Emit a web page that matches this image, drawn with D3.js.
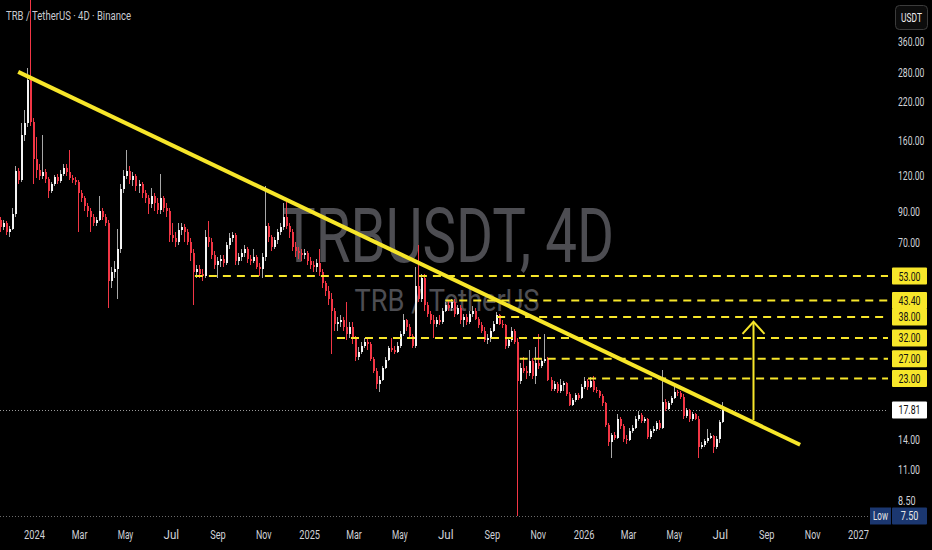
<!DOCTYPE html>
<html>
<head>
<meta charset="utf-8">
<script src="https://cdn.jsdelivr.net/npm/d3@7"></script>
<style>
  html, body { margin: 0; padding: 0; background: #000; overflow: hidden; }
  svg { display: block; }
</style>
</head>
<body>
<script>
// TRB / TetherUS 4D candles (USDT)
const startDate = "2023-11-13";
const stepDays = 4;
const firstOpen = 88;

const closes = [
  84, 79, 82, 76, 78, 88, 125, 116, 168, 185,
  262, 186, 138, 126, 120, 124, 117, 106, 112, 119,
  115, 122, 128, 124, 118, 116, 114, 104, 100, 94,
  90, 86, 82, 84, 90, 86, 82, 51, 55, 56,
  66, 108, 120, 125, 116, 120, 110, 112, 104, 100,
  95, 102, 96, 91, 100, 92, 90, 74, 72, 70,
  77, 79, 76, 70, 64, 55, 56, 54, 53, 73,
  70, 63, 58, 60, 61, 59, 68, 72, 74, 60,
  62, 64, 66, 61, 60, 62, 57, 56, 62, 80,
  73, 67, 71, 76, 79, 86, 80, 76, 67, 65,
  64, 63, 64, 60, 58, 57, 59, 55, 50, 47,
  44, 40, 36, 36.5, 37, 35, 33, 35, 32, 27.5,
  28.5, 30, 31, 30.5, 27, 24.5, 22, 22.8, 25, 26.8,
  29.5, 29, 28.5, 30, 33, 37, 35, 32.5, 30, 49,
  44, 52, 42, 39, 37, 36, 37, 36.5, 40, 42,
  41, 43, 39, 41, 37, 38, 36.5, 39, 40, 37.5,
  35.5, 34, 31.5, 32, 34, 36, 38.5, 36, 35.5, 30,
  31.5, 34, 31, 22.5, 25, 24.5, 24, 26.5, 23.5, 26,
  25.5, 26.5, 27, 22.8, 21.2, 22, 20.7, 21.8, 22.2, 20.2,
  18.6, 19.3, 20.1, 19.6, 21.5, 22.5, 21.5, 22.6, 21, 20.8,
  20, 18.8, 15.8, 13.7, 14.5, 14.2, 16.5, 15.6, 14, 13.9,
  15, 15.4, 16.5, 17.1, 16.3, 16.5, 14.3, 15, 15.3, 16,
  15.4, 19, 18, 18.8, 19.6, 20.6, 20.4, 19.8, 16.9, 17.8,
  16.5, 17.2, 16.6, 13.2, 13.4, 13.8, 14.2, 14.4, 13.2, 14,
  16.2, 17.81
];

const highs = [
  92, 86, 84, 83, 80, 92, 130, 128, 185, 205,
  290, 640, 192, 165, 132, 168, 127, 119, 114, 121,
  122, 126, 132, 132, 148, 121, 119, 116, 107, 102,
  96, 92, 88, 86, 102, 92, 88, 84, 57, 60,
  78, 112, 126, 148, 130, 124, 122, 116, 114, 107,
  103, 109, 104, 100, 122, 102, 96, 92, 82, 76,
  82, 82, 81, 78, 72, 66, 58, 58, 56, 77,
  83, 72, 65, 62, 63, 63, 70, 75, 76, 75,
  64, 66, 68, 67, 63, 66, 63, 59, 64, 110,
  82, 74, 73, 78, 82, 96, 97, 82, 78, 70,
  67, 66, 66, 65, 62, 60, 61, 66, 56, 51,
  49, 46, 41, 38, 38.5, 38, 43, 36.5, 36.5, 32.5,
  29.8, 31, 32, 32, 31, 27.5, 25, 23.4, 25.5, 27.3,
  30, 32, 30, 31, 34, 39, 37.5, 36, 33, 57,
  68, 54, 54, 43, 40, 38.5, 38, 38.5, 41, 43,
  43.5, 44, 44, 42, 42, 39, 39, 40, 41.5, 41,
  38, 36.5, 35, 33, 34.6, 36.8, 39.5, 39, 37, 36,
  32, 35, 34.5, 32, 26, 27.5, 25.5, 29, 27.2, 29.7,
  33, 27.2, 33, 27.5, 23.2, 22.6, 22.4, 23, 22.6, 22.4,
  20.6, 19.6, 20.5, 20.4, 22, 23.2, 22.9, 23.2, 23.4, 21.5,
  21, 20.2, 19, 16, 14.8, 14.9, 17.2, 16.8, 15.9, 14.5,
  15.4, 15.8, 16.9, 17.6, 17.3, 16.8, 16.7, 15.3, 15.6, 16.3,
  16.4, 24.6, 19.4, 19.2, 20, 22, 21, 20.8, 20.2, 18.1,
  18, 17.5, 17.4, 16.9, 13.7, 14, 15.2, 14.7, 14.5, 14.4,
  16.4, 19
];

const lows = [
  80, 76, 77, 74, 73, 77, 86, 112, 114, 160,
  178, 180, 112, 118, 116, 117, 113, 100, 104, 110,
  112, 113, 120, 120, 116, 113, 111, 76, 97, 90,
  86, 76, 80, 80, 83, 84, 80, 41, 48, 52,
  44, 64, 104, 117, 112, 110, 106, 104, 100, 96,
  88, 92, 90, 88, 88, 89, 86, 70, 70, 67,
  68, 74, 70, 68, 60, 42, 52, 52, 51, 52,
  67, 61, 56, 52, 57, 57, 58, 66, 70, 58,
  58, 60, 62, 59, 58, 59, 56, 53, 52, 60,
  70, 65, 66, 69, 74, 77, 78, 72, 65, 62,
  61, 60, 61, 58, 56, 55, 55, 53, 48, 45,
  42, 28, 34, 34, 35, 34, 31.5, 32, 30.5, 26.5,
  26.8, 28, 29.5, 29, 26.5, 24, 21.2, 20.6, 22.5, 24.8,
  26.5, 28.5, 28, 28.2, 29.6, 32.5, 34, 31.8, 29.5, 29.5,
  43, 43, 40, 38, 36, 32, 35, 35.5, 36, 39.5,
  40, 40, 38, 38.5, 36, 35, 35.5, 36, 38, 37,
  34.8, 33.3, 31, 30.5, 31, 33.5, 35.8, 35.5, 34.8, 29.3,
  29.5, 31, 30.5, 7.5, 22, 24, 23, 23.5, 23, 22,
  24.8, 25, 26, 22.5, 20.8, 20.8, 20.5, 20.5, 20.8, 19.9,
  18.4, 18.4, 19, 19.3, 19.4, 21.2, 21, 21.3, 20.6, 20.4,
  19.6, 18.4, 15.5, 13.3, 12, 13.9, 14, 15.3, 13.7, 13.5,
  13.8, 14.8, 15.2, 16.3, 16, 16, 14, 14.1, 14.8, 15,
  15.1, 15.2, 17.6, 17.8, 18.5, 19.4, 20, 19.5, 16.6, 16.7,
  16.2, 16.3, 16.4, 12, 12.9, 13.2, 13.6, 14, 12.5, 13,
  13.6, 16
];

const timeTicks = ["2024-01-01", "2024-03-01", "2024-05-01", "2024-07-01", "2024-09-01", "2024-11-01",
  "2025-01-01", "2025-03-01", "2025-05-01", "2025-07-01", "2025-09-01", "2025-11-01",
  "2026-01-01", "2026-03-01", "2026-05-01", "2026-07-01", "2026-09-01", "2026-11-01", "2027-01-01"];
const timeLabels = ["2024", "Mar", "May", "Jul", "Sep", "Nov", "2025", "Mar", "May", "Jul", "Sep", "Nov",
  "2026", "Mar", "May", "Jul", "Sep", "Nov", "2027"];
const priceTicks = [360, 280, 220, 160, 120, 90, 70, 14, 11, 8.5];

// horizontal levels and the date each dashed line starts
const levels = [53, 43.4, 38, 32, 27, 23];
const levelStarts = ["2024-08-02", "2025-07-01", "2025-09-08", "2025-02-07", "2025-10-08", "2026-01-07"];

const trendDates = ["2023-12-11", "2026-10-16"];
const trendPrices = [280, 13.4];
const arrowDate = "2026-08-15";
const arrowPrices = [16.4, 36.5];
const lastPrice = 17.81;
const lowPrice = 7.5;

const W = 932, H = 550;
const plotRight = 888, plotBottom = 518;
const font = "Roboto, 'Liberation Sans', sans-serif";
const yellow = "#f7e62a";
const upColor = "#f4f4f4", downColor = "#f23645";
const charW = 4.4; // narrow TradingView-style digits
const labelSize = "13px";

const parse = d3.utcParse("%Y-%m-%d");
const start = parse(startDate);

const candles = closes.map((c, i) => ({
  date: d3.utcDay.offset(start, i * stepDays),
  open: i === 0 ? firstOpen : closes[i - 1],
  high: highs[i],
  low: lows[i],
  close: c
}));

const x = d3.scaleUtc()
  .domain([parse("2024-01-01"), parse("2027-01-01")])
  .range([34, 858]);

const y = d3.scaleLog()
  .domain([7.5, 360])
  .range([516, 41]);

const svg = d3.select("body").append("svg")
  .attr("width", W)
  .attr("height", H)
  .style("background", "#000");

svg.append("defs").append("clipPath")
  .attr("id", "plot")
  .append("rect")
  .attr("width", plotRight)
  .attr("height", plotBottom);

const plot = svg.append("g").attr("clip-path", "url(#plot)");

// squeeze a text horizontally (x0 = its anchor x) so it takes w px per character
function squeeze(sel, w, x0) {
  sel.each(function () {
    const t = d3.select(this);
    const natural = this.getComputedTextLength();
    const s = Math.min(1, (t.text().length * w) / natural);
    const ox = x0 !== undefined ? x0 : +t.attr("x") || 0;
    t.attr("x", 0).attr("transform", `translate(${ox},0) scale(${s},1)`);
  });
}

// watermark
plot.append("text")
  .attr("x", 448).attr("y", 262)
  .attr("text-anchor", "middle")
  .attr("textLength", 332)
  .attr("lengthAdjust", "spacingAndGlyphs")
  .style("font-family", font)
  .style("font-size", "76px")
  .attr("fill", "#4d4d52")
  .text("TRBUSDT, 4D");

plot.append("text")
  .attr("x", 447).attr("y", 311)
  .attr("text-anchor", "middle")
  .attr("textLength", 185)
  .attr("lengthAdjust", "spacingAndGlyphs")
  .style("font-family", font)
  .style("font-size", "32px")
  .attr("fill", "#4d4d52")
  .text("TRB / TetherUS");

// last price and low reference lines
plot.append("line")
  .attr("x1", 0).attr("x2", plotRight)
  .attr("y1", Math.round(y(lastPrice)) + 0.5).attr("y2", Math.round(y(lastPrice)) + 0.5)
  .attr("stroke", "#9a9a9a").attr("stroke-width", 1)
  .attr("stroke-dasharray", "1,2");

plot.append("line")
  .attr("x1", 0).attr("x2", 868)
  .attr("y1", Math.round(y(lowPrice)) + 0.5).attr("y2", Math.round(y(lowPrice)) + 0.5)
  .attr("stroke", "#6a6a6a").attr("stroke-width", 1)
  .attr("stroke-dasharray", "1,2");

// candles
const cg = plot.append("g").attr("shape-rendering", "crispEdges");
cg.selectAll("line.wick")
  .data(candles)
  .join("line")
  .attr("class", "wick")
  .attr("x1", d => Math.round(x(d.date)) + 0.5)
  .attr("x2", d => Math.round(x(d.date)) + 0.5)
  .attr("y1", d => y(d.high))
  .attr("y2", d => y(d.low))
  .attr("stroke", d => d.close >= d.open ? "#a8a8a8" : downColor)
  .attr("stroke-width", 1);

cg.selectAll("rect.body")
  .data(candles)
  .join("rect")
  .attr("class", "body")
  .attr("x", d => Math.round(x(d.date)))
  .attr("width", 2)
  .attr("y", d => y(Math.max(d.open, d.close)))
  .attr("height", d => Math.max(1, Math.abs(y(d.open) - y(d.close))))
  .attr("fill", d => d.close >= d.open ? upColor : downColor);

// dashed horizontal levels
plot.selectAll("line.level")
  .data(levels)
  .join("line")
  .attr("class", "level")
  .attr("x1", (d, i) => x(parse(levelStarts[i])))
  .attr("x2", plotRight)
  .attr("y1", d => y(d)).attr("y2", d => y(d))
  .attr("stroke", yellow)
  .attr("stroke-width", 2)
  .attr("stroke-dasharray", "8,6");

// trendline
plot.append("line")
  .attr("x1", x(parse(trendDates[0]))).attr("y1", y(trendPrices[0]))
  .attr("x2", x(parse(trendDates[1]))).attr("y2", y(trendPrices[1]))
  .attr("stroke", yellow)
  .attr("stroke-width", 4);

// target arrow
const ax = x(parse(arrowDate));
const tipY = y(arrowPrices[1]);
plot.append("line")
  .attr("x1", ax).attr("x2", ax)
  .attr("y1", y(arrowPrices[0])).attr("y2", tipY)
  .attr("stroke", yellow).attr("stroke-width", 2);
plot.append("path")
  .attr("d", `M${ax - 11},${tipY + 12}L${ax},${tipY}L${ax + 11},${tipY + 12}`)
  .attr("fill", "none")
  .attr("stroke", yellow).attr("stroke-width", 2);

// title
svg.append("text")
  .attr("x", 6).attr("y", 20)
  .style("font-family", font)
  .style("font-size", "13.5px")
  .attr("fill", "#c8cad0")
  .text("TRB / TetherUS · 4D · Binance")
  .call(squeeze, 125 / 29);

// price axis
const yAxis = svg.append("g")
  .attr("transform", `translate(${plotRight},0)`)
  .call(d3.axisRight(y).tickValues(priceTicks).tickFormat(d3.format(".2f")).tickSize(0).tickPadding(10));
yAxis.select(".domain").remove();
yAxis.selectAll("text")
  .style("font-family", font)
  .style("font-size", labelSize)
  .attr("fill", "#d0d2d8")
  .call(squeeze, charW, 10);

// time axis
const xAxis = svg.append("g")
  .attr("transform", `translate(0,${plotBottom})`)
  .call(d3.axisBottom(x)
    .tickValues(timeTicks.map(parse))
    .tickFormat((d, i) => timeLabels[i])
    .tickSize(0).tickPadding(12));
xAxis.select(".domain").remove();
xAxis.selectAll("text")
  .style("font-family", font)
  .style("font-size", labelSize)
  .attr("fill", "#d0d2d8")
  .call(squeeze, 5.2, 0);

// USDT badge
svg.append("rect")
  .attr("x", 895.5).attr("y", 5.5).attr("width", 32).attr("height", 24).attr("rx", 4)
  .attr("fill", "#0c0c0c").attr("stroke", "#3c3c3c");
svg.append("text")
  .attr("x", 911.5).attr("y", 22).attr("text-anchor", "middle")
  .style("font-family", font).style("font-size", "12.5px")
  .attr("fill", "#eeeeee").text("USDT")
  .call(squeeze, 5.2);

// price badges
function badge(v, fill, color, label) {
  const cy = y(v);
  svg.append("rect")
    .attr("x", 892).attr("y", cy - 8.5).attr("width", 35).attr("height", 17).attr("rx", 1)
    .attr("fill", fill);
  svg.append("text")
    .attr("x", 909.5).attr("y", cy + 4.5).attr("text-anchor", "middle")
    .style("font-family", font).style("font-size", labelSize)
    .attr("fill", color).text(label)
    .call(squeeze, charW);
}
levels.forEach(v => badge(v, yellow, "#111", d3.format(".2f")(v)));
badge(lastPrice, "#ffffff", "#111", d3.format(".2f")(lastPrice));
badge(lowPrice, "#1b3770", "#e8e8e8", d3.format(".2f")(lowPrice));
svg.append("rect")
  .attr("x", 870).attr("y", y(lowPrice) - 8.5).attr("width", 21).attr("height", 17)
  .attr("fill", "#1b3770");
svg.append("text")
  .attr("x", 880.5).attr("y", y(lowPrice) + 4.5).attr("text-anchor", "middle")
  .style("font-family", font).style("font-size", labelSize)
  .attr("fill", "#e8e8e8").text("Low")
  .call(squeeze, 5);
</script>
</body>
</html>
